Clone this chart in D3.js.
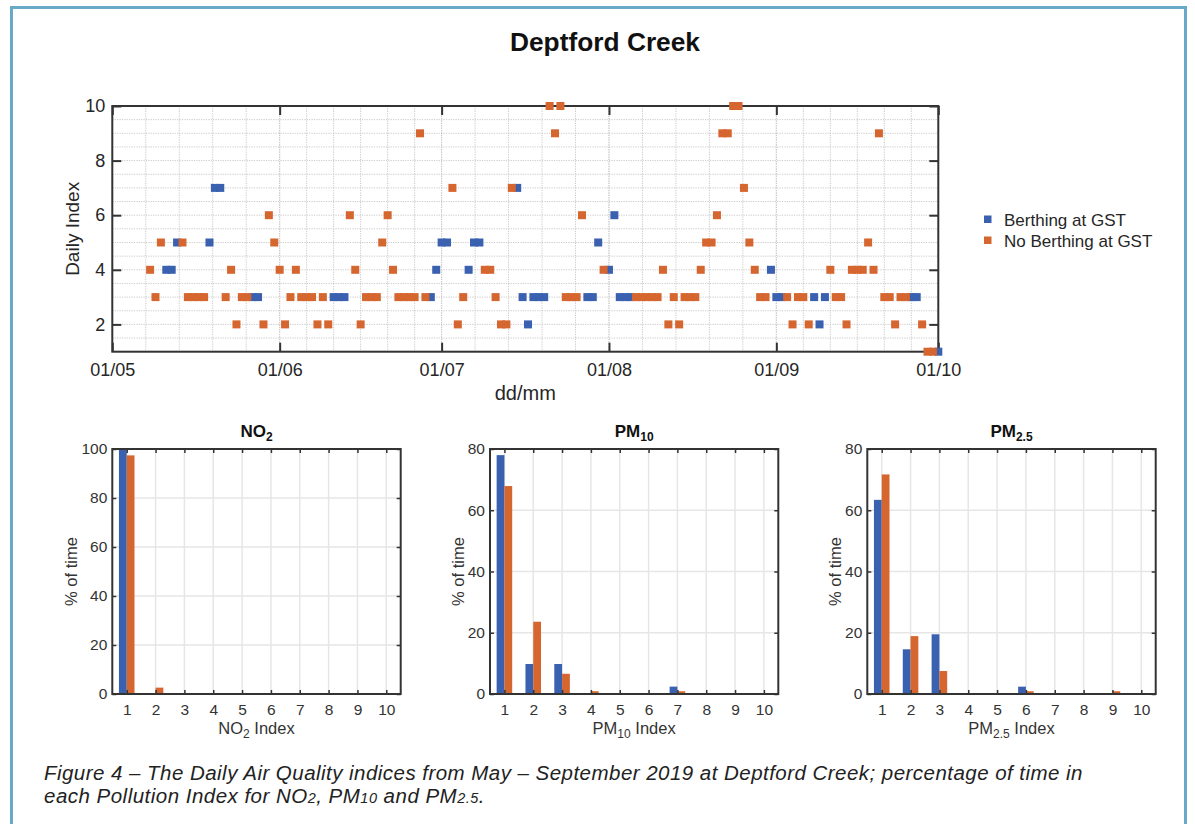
<!DOCTYPE html>
<html>
<head>
<meta charset="utf-8">
<script src="https://cdn.jsdelivr.net/npm/d3@7"></script>
<style>
  body { margin: 0; background: #fff; }
  svg { display: block; font-family: "Liberation Sans", Arial, sans-serif; }
</style>
</head>
<body>
<svg id="chart" width="1195" height="824"></svg>
<script>
// daily index, one value per day starting 08/05/2019
const startDate = new Date(Date.UTC(2019, 4, 8));
const dailyIndex = [
  4,3,5,4,4,5,5,3,3,3,
  3,5,7,7,3,4,2,3,3,3,
  3,2,6,5,4,2,3,4,3,3,
  3,2,3,2,3,3,3,6,4,2,
  3,3,3,5,6,4,3,3,3,3,
  9,3,3,4,5,5,7,2,3,4,
  5,5,4,4,3,2,2,7,7,3,
  2,3,3,3,10,9,10,3,3,3,
  6,3,3,5,4,4,6,3,3,3,
  3,3,3,3,3,4,2,3,2,3,
  3,3,4,5,5,6,9,9,10,10,
  7,5,4,3,3,4,3,3,3,2,
  3,3,2,3,2,3,4,3,3,2,
  4,4,4,5,4,9,3,3,2,3,
  3,3,3,2,1,1,1
];
// 1 = berthing at GST that day
const berthing = [
  0,0,0,1,1,1,0,0,0,0,
  0,1,1,1,0,0,0,0,0,1,
  1,0,0,0,0,0,0,0,0,0,
  0,0,0,0,1,1,1,0,0,0,
  0,0,0,0,0,0,0,0,0,0,
  0,0,1,1,1,1,0,0,0,1,
  1,1,0,0,0,0,0,0,1,1,
  1,1,1,1,0,0,0,0,0,0,
  0,1,1,1,0,1,1,1,1,1,
  0,0,0,0,0,0,0,0,0,0,
  0,0,0,0,0,0,0,0,0,0,
  0,0,0,0,0,1,1,1,0,0,
  0,0,0,1,1,1,0,0,0,0,
  0,0,0,0,0,0,0,0,0,0,
  0,1,1,0,0,0,1
];

// % of time in each index
const indexCats = [1,2,3,4,5,6,7,8,9,10];
const no2Berth    = [100,0,0,0,0,0,0,0,0,0];
const no2NoBerth  = [97.4,2.6,0,0,0,0,0,0,0,0];
const pm10Berth   = [78.0,9.8,9.8,0,0,0,2.4,0,0,0];
const pm10NoBerth = [67.9,23.6,6.6,0.9,0,0,0.9,0,0,0];
const pm25Berth   = [63.4,14.6,19.5,0,0,2.4,0,0,0,0];
const pm25NoBerth = [71.7,18.9,7.5,0,0,0.9,0,0,0.9,0];

const seriesNames = ["Berthing at GST", "No Berthing at GST"];
const BLUE = "#3a61b0", ORANGE = "#d6662f";
const AX = "#333", TXT = "#262626";

const svg = d3.select("#chart");

// frame around the figure
svg.append("rect")
  .attr("x", 11.5).attr("y", 7.5).attr("width", 1174).attr("height", 830)
  .attr("fill", "none").attr("stroke", "#68a9c8").attr("stroke-width", 3);

svg.append("text")
  .attr("x", 605).attr("y", 51).attr("text-anchor", "middle")
  .attr("font-size", 25).attr("font-weight", "bold").attr("fill", "#111")
  .attr("textLength", 190).attr("lengthAdjust", "spacingAndGlyphs")
  .text("Deptford Creek");

// ---------- top: daily index ----------
const pL = 112.3, pR = 938.3, pT = 106, pB = 351.7;
const x = d3.scaleUtc()
  .domain([new Date(Date.UTC(2019, 4, 1)), new Date(Date.UTC(2019, 9, 1))])
  .range([pL, pR]);
const y = d3.scaleLinear().domain([1, 10]).range([pB, pT]);

const months = d3.utcMonth.range(x.domain()[0], d3.utcDay.offset(x.domain()[1], 1));
const main = svg.append("g");

// dotted grid
const gridX = [];
months.slice(0, -1).forEach((m, i) => {
  const a = x(m), b = x(months[i + 1]);
  const days = d3.utcDay.count(m, months[i + 1]);
  const n = days === 30 ? 6 : 5;
  for (let k = 0; k <= n; k++) gridX.push(a + k * (b - a) / n);
});
main.append("g").selectAll("line").data(gridX).join("line")
  .attr("x1", d => d).attr("x2", d => d).attr("y1", pT).attr("y2", pB)
  .attr("stroke", "#c9c9c9").attr("stroke-dasharray", "1.2,1.2");
main.append("g").selectAll("line").data(d3.range(1.5, 10, 0.5)).join("line")
  .attr("x1", pL).attr("x2", pR).attr("y1", d => y(d)).attr("y2", d => y(d))
  .attr("stroke", "#c9c9c9").attr("stroke-dasharray", "1.2,1.2");

const fmt = d3.utcFormat("%d/%m");
const xb = main.append("g").attr("transform", `translate(0,${pB})`)
  .call(d3.axisBottom(x).tickValues(months).tickFormat(fmt).tickSize(-9).tickPadding(12));
const xt = main.append("g").attr("transform", `translate(0,${pT})`)
  .call(d3.axisTop(x).tickValues(months).tickFormat("").tickSize(-9));
const yl = main.append("g").attr("transform", `translate(${pL},0)`)
  .call(d3.axisLeft(y).tickValues([2,4,6,8,10]).tickSize(-9).tickPadding(7));
const yr = main.append("g").attr("transform", `translate(${pR},0)`)
  .call(d3.axisRight(y).tickValues([2,4,6,8,10]).tickFormat("").tickSize(-9));
[xb, xt, yl, yr].forEach(g => {
  g.select(".domain").remove();
  g.selectAll(".tick line").attr("stroke", AX).attr("stroke-width", 2);
  g.selectAll("text").attr("font-size", 18).attr("fill", TXT).attr("font-family", null);
});
main.append("rect").attr("x", pL).attr("y", pT)
  .attr("width", pR - pL).attr("height", pB - pT)
  .attr("fill", "none").attr("stroke", AX).attr("stroke-width", 2);

main.append("text").attr("x", (pL + pR) / 2).attr("y", 400)
  .attr("text-anchor", "middle").attr("font-size", 20).attr("fill", TXT).text("dd/mm");
main.append("text").attr("transform", `translate(79,${(pT + pB) / 2}) rotate(-90)`)
  .attr("text-anchor", "middle").attr("font-size", 19).attr("fill", TXT).text("Daily Index");

const points = dailyIndex.map((v, i) => ({
  date: d3.utcDay.offset(startDate, i), v, b: berthing[i]
}));
const msz = 8;
[1, 0].forEach(flag => {
  main.append("g").selectAll("rect")
    .data(points.filter(p => p.b === flag)).join("rect")
    .attr("x", d => x(d.date) - msz / 2).attr("y", d => y(d.v) - msz / 2)
    .attr("width", msz).attr("height", msz)
    .attr("fill", flag ? BLUE : ORANGE);
});

// legend
const leg = svg.append("g").attr("transform", "translate(984,215.5)");
seriesNames.forEach((name, i) => {
  leg.append("rect").attr("x", 0).attr("y", i * 21).attr("width", 7.5).attr("height", 7.5)
    .attr("fill", i ? ORANGE : BLUE);
  leg.append("text").attr("x", 20).attr("y", i * 21 + 10)
    .attr("font-size", 17).attr("fill", TXT).text(name);
});

// ---------- bottom: % of time ----------
function sub(sel, base, s, size, shift) {
  sel.append("tspan").text(base);
  sel.append("tspan").attr("font-size", size).attr("dy", shift).text(s);
}

function barPanel(x0, x1, ymax, berth, noBerth, name, subTxt, ylabOff) {
  const t = 449, b = 694;
  const g = svg.append("g");
  const bx = d3.scaleLinear().domain([0.5, 10.5]).range([x0, x1]);
  const by = d3.scaleLinear().domain([0, ymax]).range([b, t]);
  const yt = d3.range(0, ymax + 1, 20);

  g.append("g").selectAll("line").data(indexCats).join("line")
    .attr("x1", d => bx(d)).attr("x2", d => bx(d)).attr("y1", t).attr("y2", b)
    .attr("stroke", "#e6e6e6").attr("stroke-width", 1.5);
  g.append("g").selectAll("line").data(yt).join("line")
    .attr("x1", x0).attr("x2", x1).attr("y1", d => by(d)).attr("y2", d => by(d))
    .attr("stroke", "#e6e6e6").attr("stroke-width", 1.5);

  const w = 0.27;
  [[berth, -w, BLUE], [noBerth, 0, ORANGE]].forEach(([vals, off, col]) => {
    g.append("g").selectAll("rect").data(vals).join("rect")
      .attr("x", (d, i) => bx(indexCats[i] + off))
      .attr("y", d => by(d))
      .attr("width", bx(w) - bx(0))
      .attr("height", d => by(0) - by(d))
      .attr("fill", col);
  });

  const ab = g.append("g").attr("transform", `translate(0,${b})`)
    .call(d3.axisBottom(bx).tickValues(indexCats).tickSize(-4).tickPadding(10));
  const at = g.append("g").attr("transform", `translate(0,${t})`)
    .call(d3.axisTop(bx).tickValues(indexCats).tickFormat("").tickSize(-4));
  const al = g.append("g").attr("transform", `translate(${x0},0)`)
    .call(d3.axisLeft(by).tickValues(yt).tickSize(-4).tickPadding(5));
  const ar = g.append("g").attr("transform", `translate(${x1},0)`)
    .call(d3.axisRight(by).tickValues(yt).tickFormat("").tickSize(-4));
  [ab, at, al, ar].forEach(a => {
    a.select(".domain").remove();
    a.selectAll(".tick line").attr("stroke", AX).attr("stroke-width", 1.5);
    a.selectAll("text").attr("font-size", 15.5).attr("fill", "#333").attr("font-family", null);
  });
  g.append("rect").attr("x", x0).attr("y", t).attr("width", x1 - x0).attr("height", b - t)
    .attr("fill", "none").attr("stroke", AX).attr("stroke-width", 2);

  const ttl = g.append("text").attr("x", (x0 + x1) / 2).attr("y", 437)
    .attr("text-anchor", "middle").attr("font-size", 17).attr("font-weight", "bold").attr("fill", "#111");
  sub(ttl, name, subTxt, 12, 4);

  const xl = g.append("text").attr("x", (x0 + x1) / 2).attr("y", 734)
    .attr("text-anchor", "middle").attr("font-size", 16.5).attr("fill", "#333");
  sub(xl, name, subTxt, 12, 4);
  xl.append("tspan").attr("dy", -4).text(" Index");

  g.append("text").attr("transform", `translate(${x0 - ylabOff},${(t + b) / 2}) rotate(-90)`)
    .attr("text-anchor", "middle").attr("font-size", 16.5).attr("fill", "#333").text("% of time");
}

barPanel(112.3, 400.7, 100, no2Berth, no2NoBerth, "NO", "2", 35);
barPanel(490, 778.3, 80, pm10Berth, pm10NoBerth, "PM", "10", 26);
barPanel(867.3, 1155.7, 80, pm25Berth, pm25NoBerth, "PM", "2.5", 26);

// caption
function fitWidth(sel, target) {
  const n = sel.node();
  const extra = target - n.getComputedTextLength();
  sel.attr("letter-spacing", extra / n.textContent.length);
}
const cap = svg.append("g").attr("font-style", "italic").attr("font-size", 20.5).attr("fill", "#222");
const c1 = cap.append("text").attr("x", 44).attr("y", 780)
  .text("Figure 4 \u2013 The Daily Air Quality indices from May \u2013 September 2019 at Deptford Creek; percentage of time in");
fitWidth(c1, 1039);
const c2 = cap.append("text").attr("x", 44).attr("y", 803);
c2.append("tspan").text("each Pollution Index for NO");
c2.append("tspan").attr("font-size", 14.5).text("2");
c2.append("tspan").text(", PM");
c2.append("tspan").attr("font-size", 14.5).text("10");
c2.append("tspan").text(" and PM");
c2.append("tspan").attr("font-size", 14.5).text("2.5");
c2.append("tspan").text(".");
fitWidth(c2, 441);
</script>
</body>
</html>
